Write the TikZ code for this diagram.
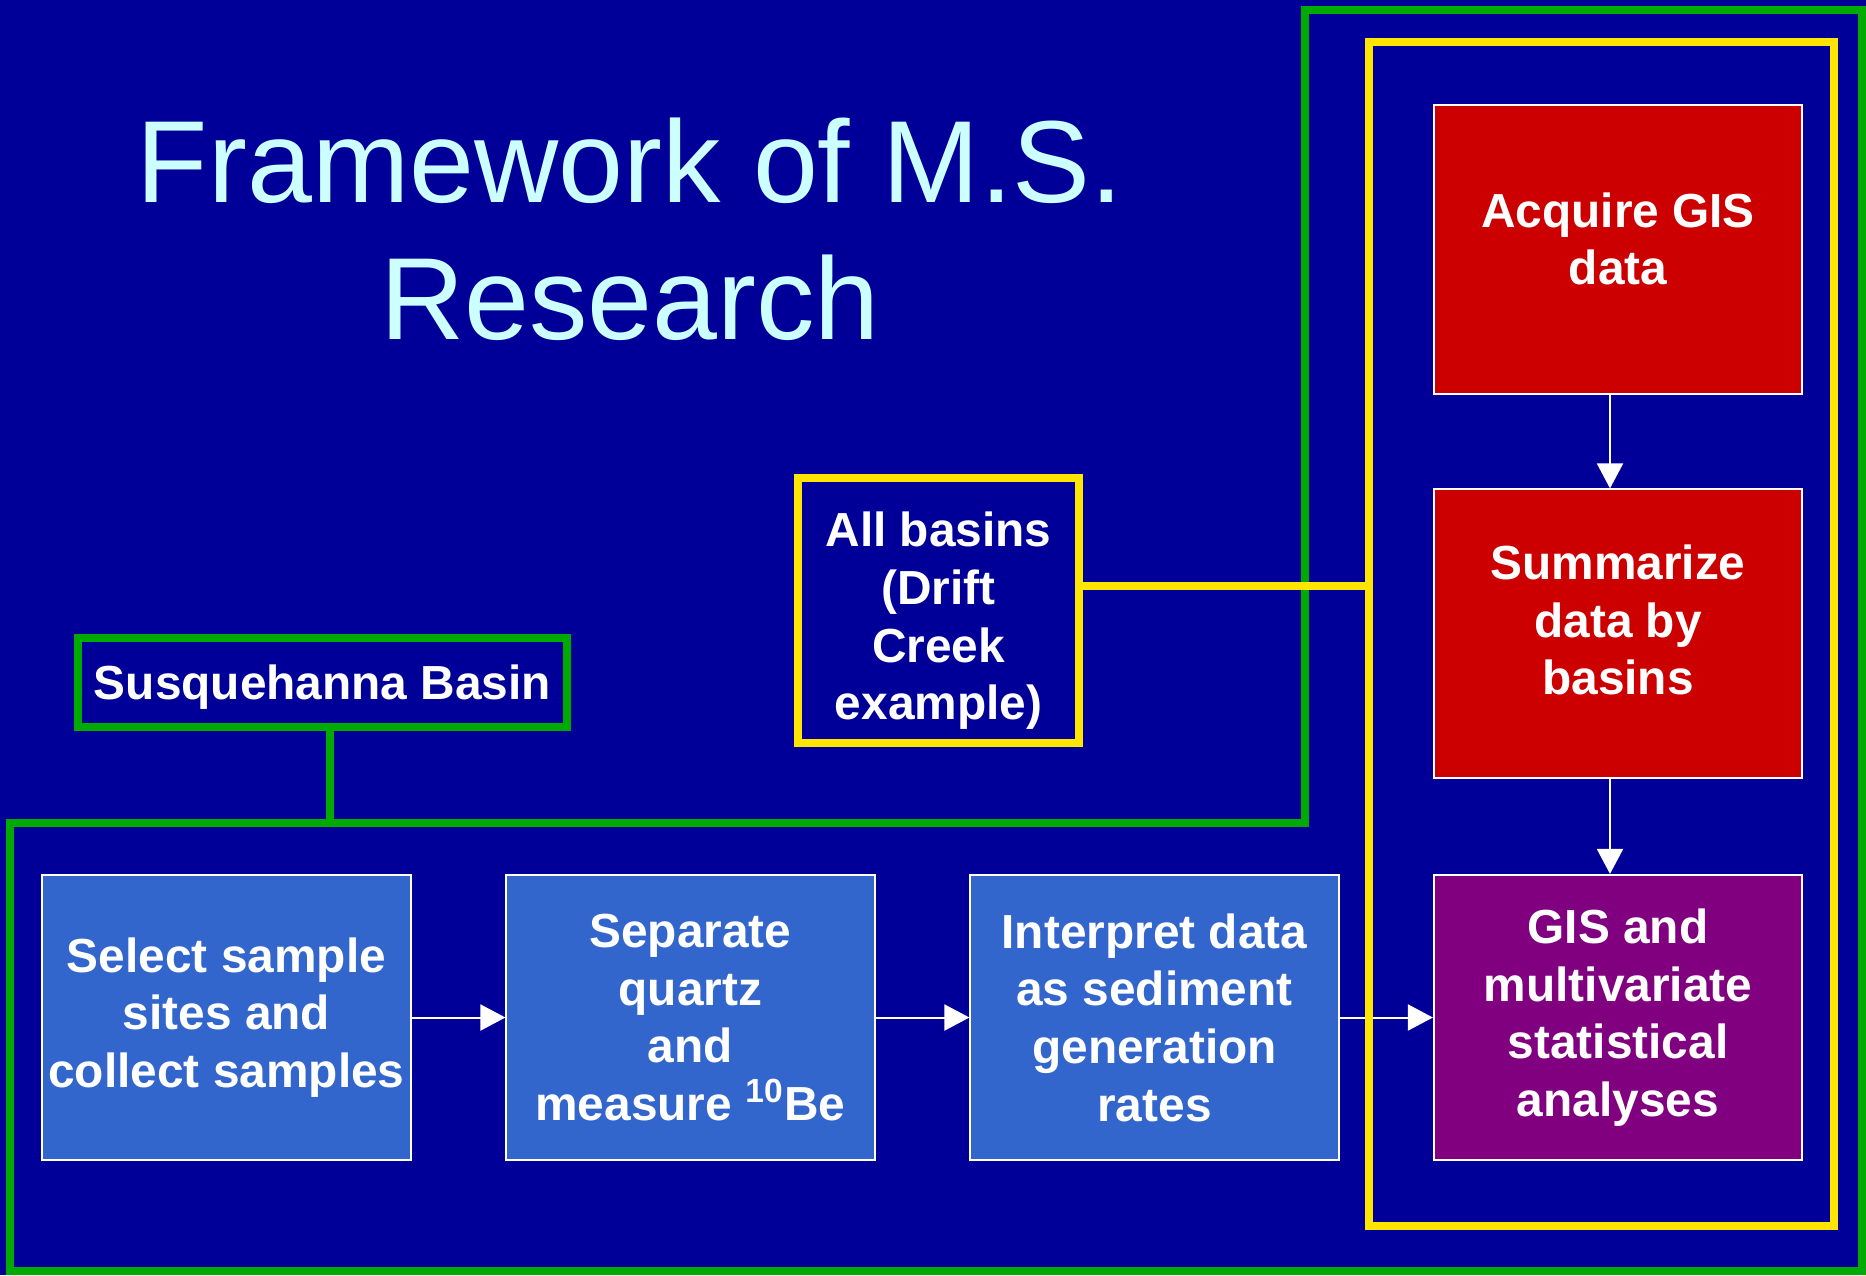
\documentclass[tikz,border=0pt]{standalone}
\usepackage{fontspec}
\setmainfont{Liberation Sans}
\usepackage{tikz}
\usetikzlibrary{arrows.meta}

\definecolor{bgblue}{HTML}{000099}
\definecolor{boxblue}{HTML}{3366CC}
\definecolor{boxred}{HTML}{CC0000}
\definecolor{boxpurple}{HTML}{800080}
\definecolor{framegreen}{HTML}{00AA00}
\definecolor{frameyellow}{HTML}{FFE500}
\definecolor{titlecyan}{HTML}{CCFFFF}

\tikzset{
  stage/.style={draw=white, line width=0.57pt, text=white, align=center, inner sep=0pt,
    minimum width=3.68cm, minimum height=2.85cm,
    font=\bfseries\fontsize{13.6pt}{16.4pt}\selectfont},
  tag/.style={line width=2.28pt, fill=bgblue, text=white, align=center, inner sep=0pt,
    font=\bfseries\fontsize{13.6pt}{16.4pt}\selectfont},
  flow/.style={draw=white, line width=0.57pt, -{Triangle[length=0.25cm,width=0.26cm]}},
  greenline/.style={draw=framegreen, line width=2.28pt},
  yellowline/.style={draw=frameyellow, line width=2.28pt}
}

\begin{document}
\begin{tikzpicture}[x=0.01cm,y=-0.01cm]
\path[use as bounding box, fill=bgblue] (0,0) rectangle (1866,1275);

\node[text=titlecyan, align=center, font=\fontsize{33.2pt}{39pt}\selectfont] (title) at (630,229) {Framework of M.S.\\Research};

% steps along the bottom
\node[stage, fill=boxblue] (select) at (226.5,1017.5) {Select sample\\sites and\\collect samples};
\node[stage, fill=boxblue] (separate) at (690.5,1017.5) {Separate\\quartz\\and\\measure \textsuperscript{10}Be};
\node[stage, fill=boxblue] (interpret) at (1154.5,1017.5) {Interpret data\\as sediment\\generation\\rates};
\node[stage, fill=boxpurple] (gisstats) at (1618,1017.5) {GIS and\\multivariate\\statistical\\analyses};

% GIS column
\node[stage, fill=boxred, minimum height=2.88cm, text depth=6.2pt] (acquire) at (1618,249.5) {Acquire GIS\\data};
\node[stage, fill=boxred, minimum height=2.88cm, text depth=7.8pt] (summarize) at (1618,633.5) {Summarize\\data by\\basins};

% basin labels
\node[tag, draw=framegreen, minimum width=4.89cm, minimum height=0.89cm, text height=12.7pt, text depth=2.9pt] (susq) at (322.5,682.5) {Susquehanna Basin};
\node[tag, draw=frameyellow, minimum width=2.81cm, minimum height=2.65cm, text height=65pt] (allbasins) at (938.5,610.5) {All basins\\(Drift\\Creek\\example)};

\draw[greenline] (1305,823) -- (10,823) -- (10,1271) -- (1862,1271) -- (1862,10) -- (1305,10) -- cycle;
\coordinate (gjoin) at (330,823);
\draw[greenline] (susq.south -| gjoin) -- (gjoin);

\draw[flow] (select) -- (separate);
\draw[flow] (separate) -- (interpret);
\draw[flow] (interpret) -- (gisstats);
\coordinate (axis) at (1610,0);
\draw[flow] (acquire.south -| axis) -- (summarize.north -| axis);
\draw[flow] (summarize.south -| axis) -- (gisstats.north -| axis);

\node[yellowline, minimum width=4.65cm, minimum height=11.84cm, inner sep=0pt] (basinframe) at (1601.5,634) {};
\coordinate (ylink) at (0,586);
\draw[yellowline] (allbasins.east |- ylink) -- (basinframe.west |- ylink);
\end{tikzpicture}
\end{document}
